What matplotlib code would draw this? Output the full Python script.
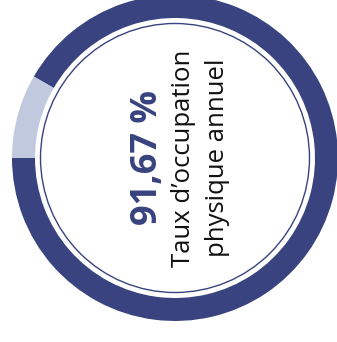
import matplotlib
matplotlib.use("Agg")
import matplotlib.pyplot as plt
from matplotlib.patches import Circle

values = [91.67, 8.33]
colors = ["#38437f", "#c0c9dd"]
value_label = "91,67 %"
caption_lines = ["Taux d\u2019occupation", "physique annuel"]

W, H = 337, 342
fig = plt.figure(figsize=(W / 100, H / 100), dpi=100)
ax = fig.add_axes([0, 0, 1, 1])

cx, cy = 175, H - 158
ax.pie(values, colors=colors, radius=163, center=(cx, cy), startangle=180,
       counterclock=True, wedgeprops=dict(width=23, linewidth=0), frame=True)
ax.set_xlim(0, W)
ax.set_ylim(0, H)
ax.set_aspect("equal")
ax.axis("off")
ax.add_patch(Circle((cx, cy), 134.5, fill=False, edgecolor=colors[0], linewidth=1.0))

ax.text(148, cy + 0.5, value_label, rotation=90, ha="center", va="center",
        fontsize=26, fontweight="bold", color=colors[0], family="Open Sans")
ax.text(183, cy, caption_lines[0], rotation=90, ha="center", va="center",
        fontsize=18.5, color="#111111", family="Open Sans")
ax.text(217, cy, caption_lines[1], rotation=90, ha="center", va="center",
        fontsize=18.5, color="#111111", family="Open Sans")

fig.savefig("out.png", dpi=100)
